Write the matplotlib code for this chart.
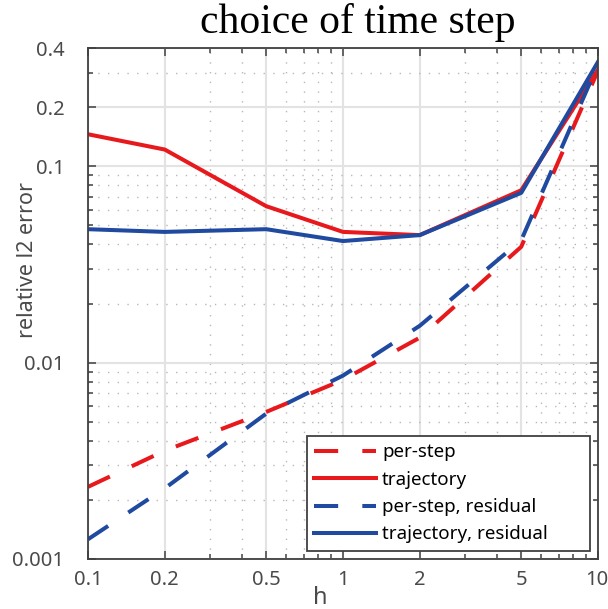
import numpy as np
import matplotlib
matplotlib.use('Agg')
import matplotlib.pyplot as plt
from matplotlib.ticker import FixedLocator, NullFormatter

# -------------------- data --------------------
h = [0.1, 0.2, 0.5, 1, 2, 5, 10]
per_step = [0.00233, 0.00356, 0.00561, 0.00817, 0.0134, 0.0389, 0.307]
trajectory = [0.1455, 0.1216, 0.0626, 0.0463, 0.0446, 0.0755, 0.31]
per_step_res = [0.00126, 0.00229, 0.00550, 0.00859, 0.0154, 0.042, 0.33]
trajectory_res = [0.0478, 0.0463, 0.0478, 0.0416, 0.0446, 0.0732, 0.34]

xticks = [0.1, 0.2, 0.5, 1, 2, 5, 10]
xticklabels = ['0.1', '0.2', '0.5', '1', '2', '5', '10']
yticks = [0.001, 0.01, 0.1, 0.2, 0.4]
yticklabels = ['0.001', '0.01', '0.1', '0.2', '0.4']

RED = '#e8191c'
BLUE = '#1f4aa0'
AXC = '#404040'
TXT = '#4a4a4a'

plt.rcParams['font.family'] = ['Noto Sans', 'DejaVu Sans']

# -------------------- figure --------------------
fig = plt.figure(figsize=(6.08, 6.09), dpi=100)
ax = fig.add_axes([88/608, 1-559/609, 510/608, 511/609])

lw = 2.9
ax.plot(h, per_step, color=RED, lw=lw, dashes=(6, 6), dash_capstyle='butt',
        label='per-step')
ax.plot(h, trajectory, color=RED, lw=lw, solid_joinstyle='round',
        label='trajectory')
ax.plot(h, per_step_res, color=BLUE, lw=lw, dashes=(6, 6), dash_capstyle='butt',
        label='per-step, residual')
ax.plot(h, trajectory_res, color=BLUE, lw=lw, solid_joinstyle='round',
        label='trajectory, residual')

ax.set_xscale('log')
ax.set_yscale('log')
ax.set_xlim(0.1, 10)
ax.set_ylim(0.001, 0.4)

# major / minor ticks
ax.xaxis.set_major_locator(FixedLocator(xticks))
ax.set_xticklabels(xticklabels)
ax.yaxis.set_major_locator(FixedLocator(yticks))
ax.set_yticklabels(yticklabels)

xminor = [m * 10.0**e for e in (-1, 0) for m in range(2, 10)
          if not any(np.isclose(m * 10.0**e, t) for t in xticks)]
yminor = [m * 10.0**e for e in (-3, -2, -1) for m in range(2, 10)
          if m * 10.0**e <= 0.4 and not any(np.isclose(m * 10.0**e, t) for t in yticks)]
ax.xaxis.set_minor_locator(FixedLocator(xminor))
ax.yaxis.set_minor_locator(FixedLocator(yminor))
ax.xaxis.set_minor_formatter(NullFormatter())
ax.yaxis.set_minor_formatter(NullFormatter())

ax.tick_params(which='both', direction='in', top=True, right=True,
               colors=AXC, width=1.1)
ax.tick_params(which='major', length=6)
ax.tick_params(which='minor', length=3.5)
ax.tick_params(axis='x', which='major', labelsize=14.5, labelcolor=TXT, pad=8)
ax.tick_params(axis='y', which='major', labelsize=14.5, labelcolor=TXT, pad=17)

# last x label sits at the very edge in the reference: keep it inside
ax.get_xticklabels()[-1].set_horizontalalignment('right')
ax.get_xticklabels()[-1].set_x(10)
import matplotlib.transforms as mtransforms
lab = ax.get_xticklabels()[-1]
lab.set_transform(lab.get_transform() + mtransforms.ScaledTranslation(10/100, 0, fig.dpi_scale_trans))

for s in ax.spines.values():
    s.set_color(AXC)
    s.set_linewidth(1.3)

ax.grid(which='major', color='#e3e3e3', lw=1.5, ls='-')
ax.grid(which='minor', color='#b8b8b8', lw=1.0, ls=(0, (1, 6)))
ax.set_axisbelow(True)

leg = ax.legend(loc='lower left', bbox_to_anchor=(0.4294, 0.0157, 0.555, 0.227),
                mode='expand', borderaxespad=0, fontsize=13.5, frameon=True,
                fancybox=False, edgecolor=AXC, framealpha=1, handlelength=3.3,
                handletextpad=0.3, labelspacing=0.5, borderpad=0.4)
leg.get_frame().set_linewidth(1.3)

# texts
fig.text(358/608, 1-33/609, 'choice of time step', ha='center', va='baseline',
         fontsize=30, family=['Liberation Serif', 'DejaVu Serif'], color='black')
fig.text(28/608, 1-260/609, 'relative l2 error', ha='center', va='center',
         rotation=90, fontsize=15.5, color=TXT)
fig.text(320/608, 1-598/609, 'h', ha='center', va='center', fontsize=17, color=TXT)

fig.savefig('out.png', dpi=100)
